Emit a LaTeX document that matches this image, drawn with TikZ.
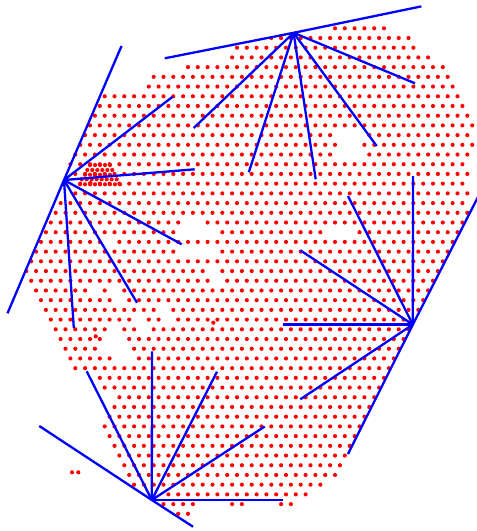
\documentclass[tikz,border=0pt]{standalone}
\usepackage{xcolor}
\usetikzlibrary{calc}
\definecolor{DotRed}{RGB}{255,0,0}
\definecolor{RayBlue}{RGB}{0,0,255}
% row / first column / last column of each run of dots
\newcommand{\dotrows}{0/0/10, 1/-13/15, 2/-20/16, 3/-21/19, 4/-30/22, 5/-37/23, 6/-38/24,
  7/-47/25, 8/-48/26, 9/-49/27, 10/-50/28, 11/-51/-1, 11/7/27, 12/-52/0, 12/6/28,
  13/-53/-1, 13/7/27, 14/-54/26, 15/-53/27, 16/-52/26, 17/-53/27, 18/-56/26, 19/-57/27,
  20/-58/-32, 20/-26/26, 21/-59/-33, 21/-23/-3, 21/5/25, 22/-60/-48, 22/-44/24,
  23/-61/-33, 23/-23/23, 24/-62/22, 25/-63/-27, 25/-23/21, 26/-62/-26, 26/-22/20,
  27/-61/-51, 27/-47/-47, 27/-43/19, 28/-60/-46, 28/-42/18, 29/-59/-37, 29/-33/17,
  30/-58/-42, 30/-38/-36, 30/-32/14, 31/-57/-47, 31/-43/-41, 31/-37/15,
  32/-56/-48, 32/-42/14, 33/-55/-49, 33/-41/13, 34/-54/-46, 34/-40/12, 35/-53/11,
  36/-48/10, 37/-47/9, 38/-44/8, 39/-45/7, 40/-46/6, 41/-47/5, 42/-46/4, 43/-45/3,
  44/-44/2, 45/-43/1, 46/-42/0, 47/-41/-3, 48/-34/-6, 49/-35/-29, 49/-21/-19,
  49/-11/-9, 50/-32/-30}

\begin{document}
\begin{tikzpicture}[
          x=1pt, y=-1pt,
          spot/.style={fill=DotRed},
          ray/.style={draw=RayBlue, line width=2.3pt}
        ]
        \useasboundingbox (0,0) rectangle (477,531);

        % Lattice
        \foreach \r/\ca/\cb in \dotrows {
          \pgfmathtruncatemacro{\n}{(\cb-(\ca))/2}
          \foreach \k in {0,...,\n}
            \fill[spot] ({335+4.9*(\ca+2*\k)}, {28.3+9.71*\r}) circle[radius=2.08];
        }

        % Dense patch
        \foreach \py/\px/\n in {165/90/4, 170/87.3/5, 174.7/85/5, 179.3/81.7/7, 184.3/80/8}
          \foreach \k in {0,...,\n}
            \fill[spot] ({\px+5*\k}, \py) circle[radius=2.08];

        % Stray dots
        \foreach \px/\py in {72/472.3, 78.3/472.3, 95.7/336.3, 213.3/322.7, 90.5/183}
          \fill[spot] (\px, \py) circle[radius=2.08];

        % Hubs
        \coordinate (hubW) at (64, 180);
        \coordinate (hubN) at (293.6, 32.8);
        \coordinate (hubE) at (412.8, 324.6);
        \coordinate (hubS) at (151.8, 500);

        % Rays
        \foreach \tx/\ty in {121.5/46, 7.5/313.3, 172.7/96.7, 194.7/169.3, 181.7/244.3, 137/302.7, 73.8/328}
          \draw[ray] (hubW) -- (\tx, \ty);
        \foreach \tx/\ty in {164.8/58.3, 421.3/6.4, 193.7/128, 248.8/172.3, 315.7/179.3, 376.7/146, 415/83.3}
          \draw[ray] (hubN) -- (\tx, \ty);
        \foreach \tx/\ty in {348/454, 478/197, 413/176, 348/196, 300.3/250.3, 282.7/324.6, 300.3/399.3}
          \draw[ray] (hubE) -- (\tx, \ty);
        \foreach \tx/\ty in {39.3/426, 193/526.7, 86.7/371.3, 152/351.3, 217/371.7, 264.7/426.5, 282.7/500}
          \draw[ray] (hubS) -- (\tx, \ty);
      \end{tikzpicture}
\end{document}
